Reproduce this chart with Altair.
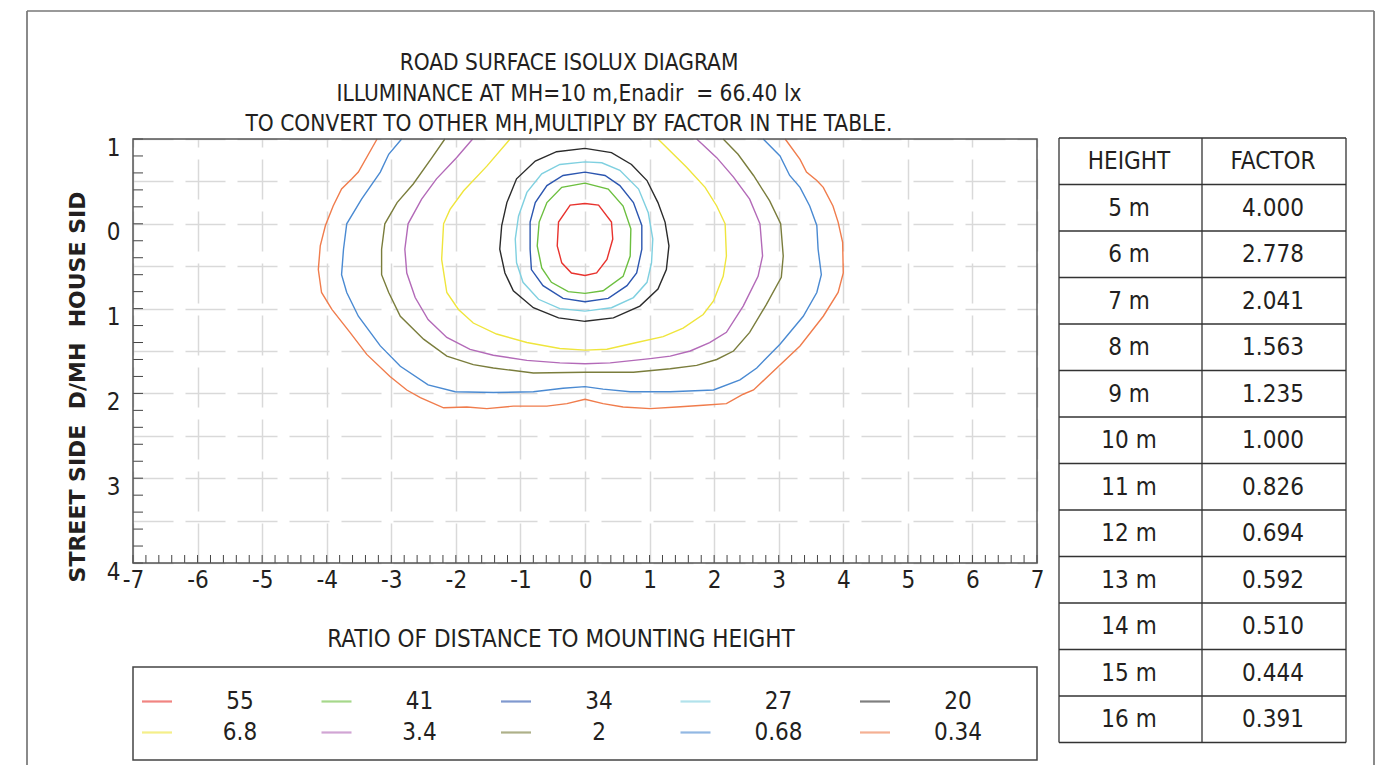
import altair as alt
import pandas as pd

# ---------------- data ----------------
LEVELS = ['55', '41', '34', '27', '20', '6.8', '3.4', '2', '0.68', '0.34']
COLORS = ['#e8332e', '#6cbf3f', '#2c56b0', '#7fd0e0', '#2b2b2b',
          '#efe53c', '#b36ab8', '#7a7d3c', '#4a8ad2', '#f07c4c']

X_55 = [0.00, -0.23, -0.41, -0.43, -0.36, -0.21, 0.00, 0.18, 0.34, 0.43, 0.41, 0.21, 0.00]
Y_55 = [-0.24, -0.22, -0.02, 0.26, 0.46, 0.58, 0.61, 0.58, 0.42, 0.18, -0.02, -0.22, -0.24]

X_41 = [0.00, -0.36, -0.59, -0.71, -0.74, -0.67, -0.52, -0.26, 0.00, 0.28, 0.59, 0.70, 0.71, 0.59, 0.36, 0.00]
Y_41 = [-0.48, -0.43, -0.25, -0.02, 0.26, 0.52, 0.69, 0.80, 0.82, 0.79, 0.62, 0.38, 0.06, -0.21, -0.41, -0.48]

X_34 = [0.00, -0.34, -0.59, -0.77, -0.85, -0.85, -0.83, -0.65, -0.34, 0.00, 0.36, 0.65, 0.80, 0.88, 0.88, 0.75, 0.54, 0.31, 0.00]
Y_34 = [-0.61, -0.57, -0.45, -0.25, -0.02, 0.30, 0.54, 0.73, 0.88, 0.92, 0.88, 0.73, 0.58, 0.30, 0.02, -0.25, -0.45, -0.57, -0.61]

X_27 = [0.00, -0.39, -0.67, -0.90, -1.03, -1.08, -1.06, -0.96, -0.72, -0.39, 0.00, 0.41, 0.75, 0.96, 1.03, 1.05, 0.98, 0.83, 0.54, 0.26, 0.00]
Y_27 = [-0.73, -0.70, -0.59, -0.37, -0.09, 0.18, 0.46, 0.69, 0.89, 1.00, 1.03, 0.99, 0.87, 0.69, 0.46, 0.18, -0.13, -0.41, -0.63, -0.72, -0.73]

X_20 = [0.00, -0.44, -0.77, -1.06, -1.21, -1.29, -1.32, -1.24, -1.11, -0.80, -0.41, 0.00, 0.44, 0.85, 1.13, 1.26, 1.30, 1.24, 1.13, 0.96, 0.72, 0.41, 0.00]
Y_20 = [-0.89, -0.85, -0.74, -0.53, -0.25, 0.02, 0.30, 0.58, 0.79, 0.99, 1.11, 1.15, 1.11, 0.97, 0.77, 0.54, 0.26, -0.02, -0.25, -0.51, -0.70, -0.84, -0.89]

X_6_8 = [-1.16, -1.52, -1.88, -2.09, -2.19, -2.22, -2.14, -1.96, -1.73, -1.37, -0.90, -0.39, 0.00, 0.34, 0.80, 1.21, 1.52, 1.83, 1.99, 2.14, 2.19, 2.17, 2.04, 1.86, 1.57, 1.13]
Y_6_8 = [-1.00, -0.68, -0.39, -0.17, 0.00, 0.42, 0.81, 1.01, 1.17, 1.30, 1.40, 1.47, 1.49, 1.48, 1.40, 1.33, 1.23, 1.07, 0.91, 0.62, 0.38, 0.00, -0.21, -0.43, -0.67, -1.00]

X_3_4 = [-1.74, -1.99, -2.30, -2.53, -2.74, -2.79, -2.76, -2.63, -2.43, -2.14, -1.78, -1.42, -0.90, -0.39, 0.00, 0.39, 1.01, 1.32, 1.63, 1.93, 2.19, 2.45, 2.68, 2.75, 2.71, 2.55, 2.30, 2.04, 1.73]
Y_3_4 = [-1.00, -0.78, -0.53, -0.29, 0.00, 0.30, 0.58, 0.87, 1.13, 1.34, 1.48, 1.55, 1.61, 1.64, 1.65, 1.64, 1.59, 1.56, 1.50, 1.40, 1.28, 0.97, 0.62, 0.38, 0.00, -0.29, -0.55, -0.78, -1.00]

X_2 = [-2.17, -2.37, -2.66, -2.91, -3.10, -3.15, -3.15, -3.04, -2.86, -2.50, -2.14, -1.73, -1.42, -0.80, 0.00, 0.75, 1.32, 1.73, 2.04, 2.30, 2.55, 2.81, 3.04, 3.07, 3.03, 2.86, 2.61, 2.37, 2.14]
Y_2 = [-1.00, -0.78, -0.47, -0.25, 0.00, 0.30, 0.60, 0.81, 1.09, 1.36, 1.56, 1.66, 1.70, 1.76, 1.75, 1.75, 1.71, 1.67, 1.60, 1.50, 1.28, 0.95, 0.63, 0.38, 0.00, -0.27, -0.57, -0.82, -1.00]

X_0_68 = [-2.84, -3.04, -3.17, -3.46, -3.69, -3.74, -3.77, -3.69, -3.51, -3.17, -2.86, -2.43, -2.01, -1.42, -0.80, -0.34, 0.00, 0.28, 0.70, 1.32, 1.99, 2.40, 2.66, 3.02, 3.38, 3.59, 3.66, 3.61, 3.59, 3.48, 3.33, 3.17, 3.02, 2.76]
Y_0_68 = [-1.00, -0.82, -0.61, -0.29, 0.00, 0.30, 0.60, 0.81, 1.09, 1.44, 1.68, 1.90, 1.98, 1.99, 1.98, 1.94, 1.92, 1.95, 1.98, 1.98, 1.96, 1.84, 1.70, 1.42, 1.09, 0.81, 0.60, 0.30, 0.02, -0.21, -0.43, -0.57, -0.80, -1.00]

X_0_34 = [-3.22, -3.51, -3.61, -3.77, -3.90, -4.02, -4.10, -4.13, -4.08, -3.92, -3.64, -3.38, -3.02, -2.76, -2.55, -2.19, -1.83, -1.52, -1.11, -0.59, -0.28, 0.00, 0.28, 0.59, 1.01, 1.42, 1.83, 2.19, 2.45, 2.61, 2.97, 3.33, 3.69, 3.92, 4.00, 3.99, 3.92, 3.84, 3.69, 3.59, 3.43, 3.33, 3.10]
Y_0_34 = [-1.00, -0.61, -0.53, -0.41, -0.21, 0.02, 0.26, 0.54, 0.81, 1.01, 1.28, 1.54, 1.80, 1.96, 2.05, 2.17, 2.16, 2.18, 2.15, 2.15, 2.12, 2.07, 2.12, 2.16, 2.18, 2.16, 2.14, 2.12, 2.01, 1.96, 1.70, 1.44, 1.09, 0.81, 0.58, 0.22, -0.02, -0.21, -0.43, -0.51, -0.61, -0.76, -1.00]

CONTOURS = {
    '55': (X_55, Y_55), '41': (X_41, Y_41), '34': (X_34, Y_34),
    '27': (X_27, Y_27), '20': (X_20, Y_20), '6.8': (X_6_8, Y_6_8),
    '3.4': (X_3_4, Y_3_4), '2': (X_2, Y_2), '0.68': (X_0_68, Y_0_68),
    '0.34': (X_0_34, Y_0_34),
}

TITLE_LINES = ['ROAD SURFACE ISOLUX DIAGRAM',
               'ILLUMINANCE AT MH=10 m,Enadir\u00a0 = 66.40 lx',
               'TO CONVERT TO OTHER MH,MULTIPLY BY FACTOR IN THE TABLE.']
X_TITLE = 'RATIO OF DISTANCE TO MOUNTING HEIGHT'
Y_TITLE = 'STREET SIDE\u00a0 D/MH\u00a0 HOUSE SID'
TABLE_HEAD = ['HEIGHT', 'FACTOR']
HEIGHTS = ['5 m', '6 m', '7 m', '8 m', '9 m', '10 m', '11 m', '12 m', '13 m', '14 m', '15 m', '16 m']
FACTORS = ['4.000', '2.778', '2.041', '1.563', '1.235', '1.000', '0.826', '0.694', '0.592', '0.510', '0.444', '0.391']
X_LABELS = [-7, -6, -5, -4, -3, -2, -1, 0, 1, 2, 3, 4, 5, 6, 7]
Y_GRID = [-1, -0.5, 0, 0.5, 1, 1.5, 2, 2.5, 3, 3.5, 4]

# ---------------- tables ----------------
rows = []
for lev, (xs, ys) in CONTOURS.items():
    for i, (a, b) in enumerate(zip(xs, ys)):
        rows.append({'level': lev, 'x': a, 'y': b, 'i': i})
df = pd.DataFrame(rows)

title_df = pd.DataFrame({'k': list(range(len(TITLE_LINES))), 'txt': TITLE_LINES})

tab_rows = []
for c, h in enumerate(TABLE_HEAD):
    tab_rows.append({'r': 0.5, 'c': c, 'txt': h})
for j, (h, f) in enumerate(zip(HEIGHTS, FACTORS)):
    tab_rows.append({'r': j + 1.5, 'c': 0, 'txt': h})
    tab_rows.append({'r': j + 1.5, 'c': 1, 'txt': f})
tab_df = pd.DataFrame(tab_rows)
tab_lines = pd.DataFrame({'r': list(range(len(HEIGHTS) + 2))})

leg_df = pd.DataFrame({'level': LEVELS,
                       'c': [i % 5 for i in range(len(LEVELS))],
                       'r': [i // 5 for i in range(len(LEVELS))]})

one = pd.DataFrame({'a': [0]})

# ---------------- styling ----------------
W, H = 904, 424
FONT = 'Liberation Sans Narrow, Arial Narrow, DejaVu Sans Condensed, Liberation Sans'
TXT = '#231f20'
XS = alt.Scale(domain=[-7, 7], nice=False, zero=False)
YS = alt.Scale(domain=[-1, 4], nice=False, zero=False, reverse=True)
color = alt.Color('level:N', scale=alt.Scale(domain=LEVELS, range=COLORS), legend=None)

contours = alt.Chart(df).mark_line(strokeWidth=1.4).encode(
    x=alt.X('x:Q', scale=XS, axis=alt.Axis(
        values=X_LABELS, grid=True, gridDash=[40, 12], gridColor='#d9d9d9', gridWidth=1.5,
        ticks=False, domain=False, labelFont=FONT, labelFontSize=24, labelColor=TXT,
        labelExpr="'' + datum.value",
        labelPadding=5, labelFlush=False, labelOverlap=False, title=None, orient='bottom')),
    y=alt.Y('y:Q', scale=YS, axis=alt.Axis(
        values=Y_GRID, grid=True, gridDash=[40, 12], gridColor='#d9d9d9', gridWidth=1.5,
        ticks=False, domain=False, labelFont=FONT, labelFontSize=24, labelColor=TXT,
        labelExpr="datum.value % 1 == 0 ? '' + abs(datum.value) : ''",
        labelOffset=9, labelPadding=13, labelFlush=False, labelOverlap=False,
        title=None, orient='left')),
    color=color, detail='level:N', order='i:Q')

y_ticks = alt.Chart(alt.sequence(-1, 4.05, 0.2, as_='v')).mark_rule(color='#444', strokeWidth=1).encode(
    y=alt.Y('v:Q', scale=YS, axis=None), x=alt.value(0), x2=alt.value(10))
x_ticks = alt.Chart(alt.sequence(-7, 7.05, 0.2, as_='v')).mark_rule(color='#444', strokeWidth=1).encode(
    x=alt.X('v:Q', scale=XS, axis=None), y=alt.value(H), y2=alt.value(H - 8))

plot_frame = alt.Chart(one).mark_rect(fillOpacity=0, stroke='#555', strokeWidth=1.5).encode(
    x=alt.value(0), x2=alt.value(W), y=alt.value(0), y2=alt.value(H))

page_left = alt.Chart(one).mark_rule(color='#8a8a8a', strokeWidth=2).encode(
    x=alt.value(-106), y=alt.value(-128), y2=alt.value(640))
page_right = alt.Chart(one).mark_rule(color='#8a8a8a', strokeWidth=2).encode(
    x=alt.value(1241), y=alt.value(-128), y2=alt.value(640))
page_top = alt.Chart(one).mark_rule(color='#777', strokeWidth=1.5).encode(
    y=alt.value(-128), x=alt.value(-106), x2=alt.value(1241))

titles = alt.Chart(title_df).mark_text(font=FONT, fontSize=22.5, color=TXT, align='center',
                                       baseline='alphabetic').encode(
    x=alt.value(436),
    y=alt.Y('k:Q', scale=alt.Scale(domain=[0, 2], range=[-69, -8]), axis=None),
    text='txt:N')

x_title = alt.Chart(pd.DataFrame({'t': [X_TITLE]})).mark_text(
    font=FONT, fontSize=24, color=TXT, align='center', baseline='alphabetic').encode(
    x=alt.value(428), y=alt.value(508), text='t:N')

y_title = alt.Chart(pd.DataFrame({'t': [Y_TITLE]})).mark_text(
    font='DejaVu Sans', fontSize=22, fontWeight='bold', color=TXT, align='center',
    baseline='middle', angle=270).encode(
    x=alt.value(-55), y=alt.value(248), text='t:N')

TS_Y = alt.Scale(domain=[0, 13], range=[-1, 603.5])
table_text = alt.Chart(tab_df).mark_text(font=FONT, fontSize=24, color=TXT, align='center',
                                         baseline='middle', dy=1).encode(
    x=alt.X('c:Q', scale=alt.Scale(domain=[0, 1], range=[996, 1140]), axis=None),
    y=alt.Y('r:Q', scale=TS_Y, axis=None),
    text='txt:N')
table_h = alt.Chart(tab_lines).mark_rule(color='#333', strokeWidth=1.3).encode(
    y=alt.Y('r:Q', scale=TS_Y, axis=None), x=alt.value(926), x2=alt.value(1213))
table_v = [alt.Chart(one).mark_rule(color='#333', strokeWidth=1.3).encode(
    x=alt.value(px), y=alt.value(-1), y2=alt.value(603.5)) for px in (926, 1069, 1213)]

leg_box = alt.Chart(one).mark_rect(fillOpacity=0, stroke='#444', strokeWidth=1.5).encode(
    x=alt.value(0), x2=alt.value(W), y=alt.value(528), y2=alt.value(621))
LX = alt.Scale(domain=[0, 4], range=[24, 742])
LY = alt.Scale(domain=[0, 1], range=[562.5, 593.5])
leg_sw = alt.Chart(leg_df).mark_point(shape='M-1,0L1,0', size=900, strokeWidth=2.2,
                                      filled=False, opacity=0.6).encode(
    x=alt.X('c:Q', scale=LX, axis=None), y=alt.Y('r:Q', scale=LY, axis=None), color=color)
leg_txt = alt.Chart(leg_df).mark_text(font=FONT, fontSize=24, color=TXT, align='center',
                                      baseline='middle', dx=83).encode(
    x=alt.X('c:Q', scale=LX, axis=None), y=alt.Y('r:Q', scale=LY, axis=None), text='level:N')

layers = [contours, y_ticks, x_ticks, plot_frame, page_left, page_right, page_top,
          titles, x_title, y_title, table_text, table_h, *table_v, leg_box, leg_sw, leg_txt]

chart = alt.layer(*layers).properties(
    width=W, height=H,
    autosize=alt.AutoSizeParams(type='none'),
    padding={'left': 125, 'top': 131, 'right': 352, 'bottom': 202},
    background='white',
).resolve_scale(x='independent', y='independent').configure_view(strokeOpacity=0)

chart.save('out.html', embed_options={'renderer': 'svg', 'actions': False})
